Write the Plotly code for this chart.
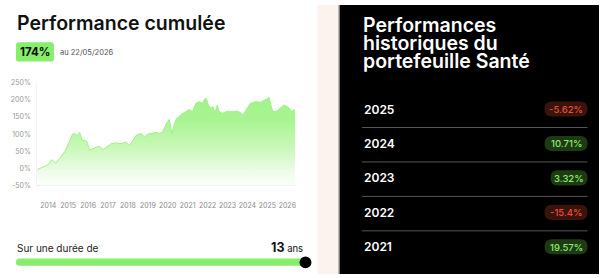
import plotly.graph_objects as go

# ---------------- data ----------------
dates = ["2013-06-13", "2013-10-01", "2014-01-01", "2014-03-03", "2014-04-12", "2014-05-18",
         "2014-07-30", "2014-10-30", "2015-01-19", "2015-03-22", "2015-05-01", "2015-06-21",
         "2015-07-31", "2015-09-20", "2015-10-30", "2015-12-13", "2016-01-30", "2016-04-01",
         "2016-05-29", "2016-07-31", "2016-10-01", "2016-11-28", "2017-02-28", "2017-05-30",
         "2017-08-29", "2017-11-28", "2018-01-30", "2018-04-01", "2018-05-30", "2018-08-29",
         "2018-10-30", "2019-01-01", "2019-03-18", "2019-05-30", "2019-07-30", "2019-09-27",
         "2019-11-28", "2020-01-30", "2020-03-18", "2020-04-12", "2020-05-30", "2020-08-29",
         "2020-11-28", "2021-01-26", "2021-03-30", "2021-05-30", "2021-07-27", "2021-09-27",
         "2021-11-13", "2021-12-09", "2022-01-15", "2022-02-28", "2022-04-09", "2022-05-15",
         "2022-06-28", "2022-07-27", "2022-09-27", "2022-12-28", "2023-03-28", "2023-06-28",
         "2023-08-25", "2023-10-08", "2023-12-28", "2024-02-24", "2024-05-26", "2024-08-25",
         "2024-10-27", "2024-12-28", "2025-01-26", "2025-02-24", "2025-04-08", "2025-06-25",
         "2025-08-25", "2025-10-27", "2025-12-24", "2026-02-06", "2026-03-14", "2026-05-22"]
perf = [-4, 4, 10, 25, 20, 15,
        29, 48, 77, 100, 102, 96,
        105, 80, 83, 77, 53, 58,
        62, 64, 55, 61, 72, 74,
        72, 77, 67, 81, 96, 102,
        92, 100, 102, 105, 102, 105,
        129, 143, 100, 119, 143, 157,
        166, 172, 166, 190, 195, 190,
        204, 204, 185, 176, 181, 161,
        185, 166, 161, 167, 166, 167,
        163, 155, 176, 190, 195, 193,
        199, 202, 209, 190, 166, 167,
        176, 185, 181, 176, 166, 172]

y_ticks = [-50, 0, 50, 100, 150, 200, 250]
y_tick_labels = ["-50%", "0%", "50%", "100%", "150%", "200%", "250%"]
x_tick_years = list(range(2014, 2027))

cumul_label = "174%"
cumul_date = "au 22/05/2026"
duration_years = 13

hist_years = ["2025", "2024", "2023", "2022", "2021"]
hist_values = [-5.62, 10.71, 3.32, -15.4, 19.57]
hist_labels = ["-5.62%", "10.71%", "3.32%", "-15.4%", "19.57%"]

# ---------------- helpers ----------------
W, H = 600, 278
FONT = "Inter"


def X(px):
    return px / W


def Y(py):
    return 1 - py / H


def rrect(x0, y0, x1, y1, r):
    """rounded rectangle path in pixel coords -> paper coords"""
    pts = [
        ("M", (x0 + r, y0)), ("L", (x1 - r, y0)), ("Q", (x1, y0), (x1, y0 + r)),
        ("L", (x1, y1 - r)), ("Q", (x1, y1), (x1 - r, y1)), ("L", (x0 + r, y1)),
        ("Q", (x0, y1), (x0, y1 - r)), ("L", (x0, y0 + r)), ("Q", (x0, y0), (x0 + r, y0)),
    ]
    s = ""
    for p in pts:
        cmd = p[0]
        coords = " ".join(f"{X(a):.5f},{Y(b):.5f}" for a, b in p[1:])
        s += f"{cmd} {coords} "
    return s + "Z"


shapes = []
annotations = []

# backgrounds
shapes.append(dict(type="rect", xref="paper", yref="paper", x0=X(318), x1=X(339), y0=0, y1=1,
                   fillcolor="#fdf3ee", line_width=0, layer="below"))
shapes.append(dict(type="rect", xref="paper", yref="paper", x0=X(340), x1=1, y0=0, y1=1,
                   fillcolor="#000000", line_width=0, layer="below"))
shapes.append(dict(type="line", xref="paper", yref="paper", x0=X(339.5), x1=X(339.5), y0=0, y1=1,
                   line=dict(color="#8a8a8a", width=1), layer="below"))

# ---------------- left panel texts ----------------
annotations.append(dict(text="Performance cumulée", x=X(15), y=Y(18.5), xref="paper", yref="paper",
                        xanchor="left", yanchor="middle", showarrow=False,
                        font=dict(family=FONT, size=19.5, color="#111111", weight=600)))
shapes.append(dict(type="path", xref="paper", yref="paper", path=rrect(16, 38.5, 54, 58.5, 3),
                   fillcolor="#86ee6b", line_width=0))
annotations.append(dict(text="<b>" + cumul_label + "</b>", x=X(35), y=Y(48.7), xref="paper", yref="paper",
                        xanchor="center", yanchor="middle", showarrow=False,
                        font=dict(family=FONT, size=11.5, color="#0b0b0b")))
annotations.append(dict(text=cumul_date, x=X(58.5), y=Y(49), xref="paper", yref="paper",
                        xanchor="left", yanchor="middle", showarrow=False,
                        font=dict(family=FONT, size=7.5, color="#555555")))

# duration slider
annotations.append(dict(text="Sur une durée de", x=X(15.5), y=Y(251.5), xref="paper", yref="paper",
                        xanchor="left", yanchor="middle", showarrow=False,
                        font=dict(family=FONT, size=10, color="#222222")))
annotations.append(dict(text=f"<b>{duration_years}</b><span style='font-size:9.5px'> ans</span>",
                        x=X(306), y=Y(251), xref="paper", yref="paper",
                        xanchor="right", yanchor="middle", showarrow=False,
                        font=dict(family=FONT, size=12.5, color="#111111")))
shapes.append(dict(type="path", xref="paper", yref="paper", path=rrect(16, 262, 306, 269.5, 3.7),
                   fillcolor="#86ee6b", line_width=0))
shapes.append(dict(type="circle", xref="paper", yref="paper", x0=X(300), x1=X(312), y0=Y(272), y1=Y(260),
                   fillcolor="#000000", line_width=0))

# ---------------- right panel ----------------
title_lines = ["Performances", "historiques du", "portefeuille Santé"]
title_y = [20.5, 39.0, 57.5]
for t, yy in zip(title_lines, title_y):
    annotations.append(dict(text=t, x=X(362), y=Y(yy), xref="paper", yref="paper",
                            xanchor="left", yanchor="middle", showarrow=False,
                            font=dict(family=FONT, size=19.5, color="#ffffff", weight=600)))

row_y0, row_dy = 107.5, 35.6
for i, (yr, v, lab) in enumerate(zip(hist_years, hist_values, hist_labels)):
    yy = row_y0 + i * row_dy
    annotations.append(dict(text=yr, x=X(362.5), y=Y(yy), xref="paper", yref="paper",
                            xanchor="left", yanchor="middle", showarrow=False,
                            font=dict(family=FONT, size=12, color="#ffffff", weight=600)))
    bg, fg = ("#1d3b13", "#8fe870") if v >= 0 else ("#3a130d", "#e8503a")
    wbad = 6.0 * len(lab) + 7
    right = 588.5
    shapes.append(dict(type="path", xref="paper", yref="paper",
                       path=rrect(right - wbad, yy - 7.8, right, yy + 7.8, 7.5),
                       fillcolor=bg, line_width=0))
    annotations.append(dict(text=lab, x=X(right - wbad / 2), y=Y(yy + 0.3), xref="paper", yref="paper",
                            xanchor="center", yanchor="middle", showarrow=False,
                            font=dict(family=FONT, size=9.5, color=fg, weight=500)))
    if i < len(hist_years) - 1:
        ly = yy + row_dy / 2 + 1.3
        shapes.append(dict(type="line", xref="paper", yref="paper", x0=X(362.5), x1=X(588.5),
                           y0=Y(ly), y1=Y(ly), line=dict(color="#555555", width=1)))

# ---------------- chart ----------------
fig = go.Figure()
fig.add_trace(go.Scatter(x=dates, y=[y_ticks[0]] * len(dates), mode="lines",
                         line=dict(width=0, color="rgba(0,0,0,0)"), hoverinfo="skip", showlegend=False))
fig.add_trace(go.Scatter(x=dates, y=perf, mode="lines", fill="tonexty",
                         line=dict(color="#a2f08a", width=1),
                         fillgradient=dict(type="vertical", start=y_ticks[0], stop=210,
                                           colorscale=[[0, "rgba(255,255,255,1)"],
                                                       [0.18, "#eefcea"],
                                                       [0.45, "#c9f8b8"],
                                                       [0.75, "#a9f492"],
                                                       [1, "#a0f389"]]),
                         showlegend=False))

fig.update_layout(
    width=W, height=H, margin=dict(l=0, r=0, t=0, b=0),
    paper_bgcolor="#ffffff", plot_bgcolor="rgba(0,0,0,0)",
    showlegend=False,
    xaxis=dict(domain=[X(37.3), X(295.5)], type="date", range=[dates[0], dates[-1]],
               tickvals=[f"{y}-01-01" for y in x_tick_years], ticktext=[str(y) for y in x_tick_years],
               tickfont=dict(family=FONT, size=7, color="#8a8a8a"), ticks="", ticklabelstandoff=13,
               showgrid=False, zeroline=False, showline=True, linecolor="#f1f1f1", linewidth=1),
    yaxis=dict(domain=[Y(186.3), Y(80.5)], range=[y_ticks[0], y_ticks[-1]],
               tickvals=y_ticks, ticktext=y_tick_labels,
               tickfont=dict(family=FONT, size=7, color="#999999"), ticks="", ticklabelstandoff=4,
               showgrid=False, zeroline=False, showline=True, linecolor="#f3f3f3", linewidth=1),
    shapes=shapes, annotations=annotations,
)

fig.write_html("out.html")
